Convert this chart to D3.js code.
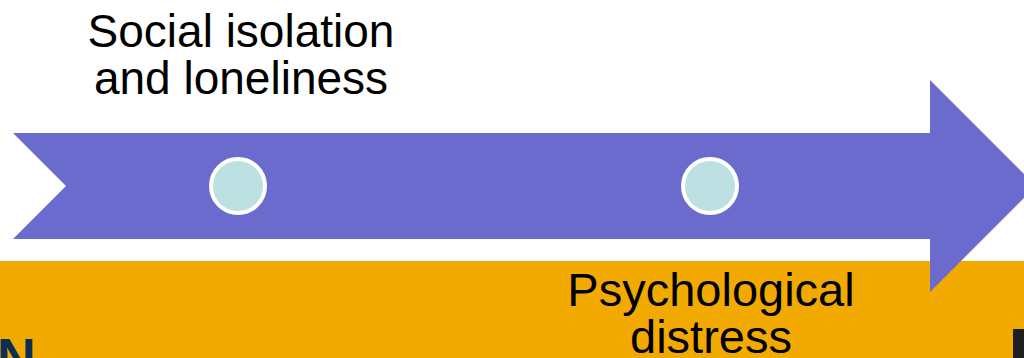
<!DOCTYPE html>
<html>
<head>
<meta charset="utf-8">
<script src="https://cdn.jsdelivr.net/npm/d3@7"></script>
<style>
html,body{margin:0;padding:0;background:#fff;overflow:hidden;}
svg{display:block;}
</style>
</head>
<body>
<svg id="chart" width="1024" height="358"></svg>
<script>
// Data
const stages = ["Social isolation and loneliness", "Psychological distress"];
const stageLines = [["Social isolation", "and loneliness"], ["Psychological", "distress"]];
const labelSide = ["above", "below"];

const W = 1024, H = 358;
const svg = d3.select("#chart");

const colors = {
  band: "#F2AA00",
  arrow: "#6B6BCE",
  dot: "#BDE0E2",
  navy: "#0B2E52",
  dark: "#1E1E1E"
};

// Scales
const x = d3.scalePoint().domain(stages).range([238, 710]);
const yArrow = 186;

// Orange band
svg.append("rect").attr("x", 0).attr("y", 261).attr("width", W).attr("height", H - 261).attr("fill", colors.band);

// Partial logo bits at the bottom corners
svg.append("text").attr("x", -3).attr("y", 376).attr("font-family", "Liberation Sans, Arial, sans-serif")
  .attr("font-weight", "bold").attr("font-size", 54).attr("fill", colors.navy).text("N");
svg.append("rect").attr("x", 1013).attr("y", 329).attr("width", 11).attr("height", 29).attr("fill", colors.dark);

// Arrow shape (chevron tail + arrow head)
const bodyTop = 133, bodyBot = 239, headTop = 80, headBot = 292;
const tailX = 13, notchX = 66, headX = 930, tipX = 1036;
const arrowPts = [
  [tailX, bodyTop], [headX, bodyTop], [headX, headTop], [tipX, yArrow],
  [headX, headBot], [headX, bodyBot], [tailX, bodyBot], [notchX, yArrow]
];
svg.append("path").attr("d", d3.line()(arrowPts) + "Z").attr("fill", colors.arrow);

// Dots
svg.selectAll("circle.dot").data(stages).join("circle")
  .attr("class", "dot")
  .attr("cx", d => x(d)).attr("cy", yArrow).attr("r", 27)
  .attr("fill", colors.dot).attr("stroke", "#fff").attr("stroke-width", 4);

// Labels
const g = svg.selectAll("text.lbl").data(stages).join("text")
  .attr("class", "lbl")
  .attr("text-anchor", "middle")
  .attr("font-family", "Liberation Sans, Arial, sans-serif")
  .attr("font-size", (d, i) => i === 0 ? 46 : 47)
  .attr("fill", "#000");
g.each(function(d, i) {
  const t = d3.select(this);
  const base = labelSide[i] === "above" ? 47 : 306;
  stageLines[i].forEach((ln, j) => {
    t.append("tspan").attr("x", x(d) + (i === 0 ? 3 : 1)).attr("y", base + j * 47).text(ln);
  });
});
</script>
</body>
</html>
